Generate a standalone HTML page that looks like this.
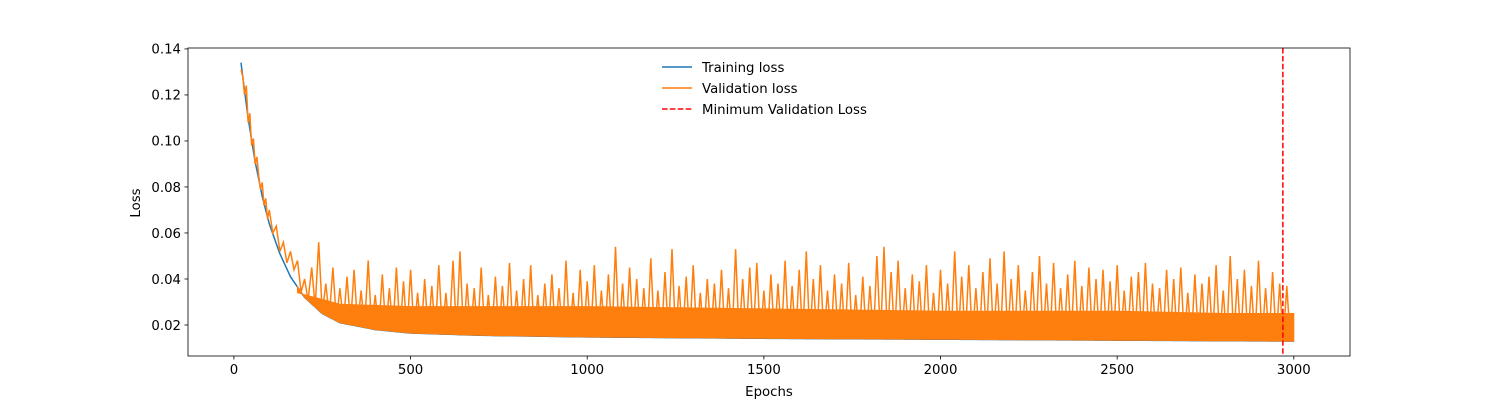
<!DOCTYPE html>
<html><head><meta charset="utf-8"><style>
html,body{margin:0;padding:0;background:#fff;}
svg{display:block;font-family:"DejaVu Sans","Liberation Sans",sans-serif;}
</style></head><body>
<svg id="chart" width="1500" height="400" viewBox="0 0 1500 400">
<g id="plot"></g>
</svg>
<script>
const trainEpochs=[20,40,60,80,100,130,160,200,250,300,400,500,700,1000,1500,2000,2500,3000];
const trainValues=[0.134,0.110,0.091,0.076,0.064,0.051,0.041,0.032,0.025,0.021,0.018,0.0165,0.0155,0.0148,0.0142,0.0138,0.0134,0.0130];
const earlyValEpochs=[20,25,30,35,40,45,50,55,60,65,70,75,80,85,90,95,100,110,120,130,140,150,160,170,180];
const earlyValValues=[0.131,0.128,0.120,0.124,0.108,0.112,0.098,0.101,0.090,0.093,0.085,0.079,0.082,0.072,0.075,0.066,0.070,0.060,0.063,0.052,0.056,0.047,0.052,0.044,0.048];
const bandEpochs=[180,300,500,1000,1500,2000,2500,2800,3000];
const bandHigh=[0.034,0.029,0.028,0.028,0.027,0.026,0.026,0.025,0.025];
const spikeStart=180, spikeStep=20;
const spikeValues=[.048,.040,.045,.056,.038,.045,.036,.041,.044,.035,
.048,.033,.042,.036,.045,.039,.044,.034,.040,.037,
.046,.034,.048,.052,.038,.036,.045,.033,.041,.037,
.047,.035,.040,.046,.033,.038,.042,.036,.048,.034,
.044,.039,.046,.035,.042,.054,.038,.045,.040,.036,
.049,.035,.043,.053,.037,.041,.046,.034,.040,.038,
.044,.036,.053,.040,.045,.047,.035,.042,.038,.048,
.037,.044,.052,.040,.046,.035,.042,.038,.047,.033,
.041,.037,.050,.054,.043,.048,.036,.042,.039,.046,
.034,.044,.038,.052,.041,.046,.036,.043,.049,.038,
.052,.040,.046,.035,.043,.050,.038,.047,.036,.042,
.048,.037,.045,.040,.044,.039,.046,.035,.041,.043,
.047,.038,.036,.044,.040,.045,.034,.042,.038,.041,
.046,.035,.050,.040,.044,.037,.048,.036,.043,.038,.037];
const minValEpoch=2969;
const xTicks=[0,500,1000,1500,2000,2500,3000];
const yTicks=[0.02,0.04,0.06,0.08,0.10,0.12,0.14];

const L=188,R=1350,T=48,B=356;
const xMin=-130,xMax=3159,yMin=0.00652,yMax=0.1404;
const X=e=>L+(e-xMin)/(xMax-xMin)*(R-L);
const Y=v=>B-(v-yMin)/(yMax-yMin)*(B-T);
function interp(xs,ys,x){for(let i=1;i<xs.length;i++){if(x<=xs[i]){const t=(x-xs[i-1])/(xs[i]-xs[i-1]);return ys[i-1]+t*(ys[i]-ys[i-1]);}}return ys[ys.length-1];}
const NS="http://www.w3.org/2000/svg";
const svgEl=document.getElementById('chart');
const plot=document.getElementById('plot');
function mk(tag,attrs,parent){const el=document.createElementNS(NS,tag);for(const k in attrs)el.setAttribute(k,attrs[k]);(parent||svgEl).appendChild(el);return el;}

// training line
const trainPts=[];for(let e=20;e<=3000;e+=10)trainPts.push(X(e).toFixed(1)+','+Y(interp(trainEpochs,trainValues,e)).toFixed(1));
const tl=mk('polyline',{points:trainPts.join(' '),fill:'none',stroke:'#1f77b4','stroke-width':1.5},plot);



// validation band
const bandTopPts=[],bandBotPts=[];
for(let e=180;e<=3000;e+=10){bandTopPts.push(X(e).toFixed(1)+','+Y(interp(bandEpochs,bandHigh,e)).toFixed(1));bandBotPts.unshift(X(e).toFixed(1)+','+Y(interp(trainEpochs,trainValues,e)).toFixed(1));}
const band=mk('polygon',{points:bandTopPts.concat(bandBotPts).join(' '),fill:'#ff7f0e',stroke:'#ff7f0e','stroke-width':1},plot);



// validation line
const vp=earlyValEpochs.map((e,i)=>X(e).toFixed(1)+','+Y(earlyValValues[i]).toFixed(1));
spikeValues.forEach((v,i)=>{const e=spikeStart+i*spikeStep;vp.push(X(e).toFixed(1)+','+Y(v).toFixed(1));const e2=e+10;vp.push(X(e2).toFixed(1)+','+Y(interp(trainEpochs,trainValues,e2)).toFixed(1));});
const vl=mk('polyline',{points:vp.join(' '),fill:'none',stroke:'#ff7f0e','stroke-width':1.5},plot);



// min line
const ml=mk('line',{x1:X(minValEpoch),x2:X(minValEpoch),y1:T,y2:B,stroke:'red','stroke-width':1.5,'stroke-dasharray':'5.5,2.4'},plot);



// axes frame
const fr=mk('rect',{x:L,y:T,width:R-L,height:B-T,fill:'none',stroke:'#000','stroke-width':0.8});



xTicks.forEach(t=>{const x=X(t);
 mk('line',{x1:x,x2:x,y1:B,y2:B+3.5,stroke:'#000','stroke-width':0.8});
 const tx=mk('text',{x:x,y:B+18,'text-anchor':'middle','font-size':'13.3px',fill:'#000'});tx.textContent=t;
 
 });
yTicks.forEach(t=>{const y=Y(t);
 mk('line',{x1:L-3.5,x2:L,y1:y,y2:y,stroke:'#000','stroke-width':0.8});
 const tx=mk('text',{x:L-7,y:y+4.8,'text-anchor':'end','font-size':'13.3px',fill:'#000'});tx.textContent=t.toFixed(2);
 
 });

const xt=mk('text',{x:(L+R)/2,y:396,'text-anchor':'middle','font-size':'13.3px'});xt.textContent='Epochs';


const yt=mk('text',{x:0,y:0,'text-anchor':'middle','font-size':'13.3px',transform:'translate(140,203) rotate(-90)'});yt.textContent='Loss';



// legend
const legendItems=[['Training loss','#1f77b4',null],['Validation loss','#ff7f0e',null],['Minimum Validation Loss','red','5.5,2.4']];
legendItems.forEach((d,i)=>{const y=67+i*21;
 const g=mk('g',{});
 
 
 const a={x1:662,x2:692,y1:y,y2:y,stroke:d[1],'stroke-width':1.5};if(d[2])a['stroke-dasharray']=d[2];
 mk('line',a,g);
 const t=mk('text',{x:702,y:y+4.8,'font-size':'13.3px'},g);t.textContent=d[0];});
</script>
</body></html>
